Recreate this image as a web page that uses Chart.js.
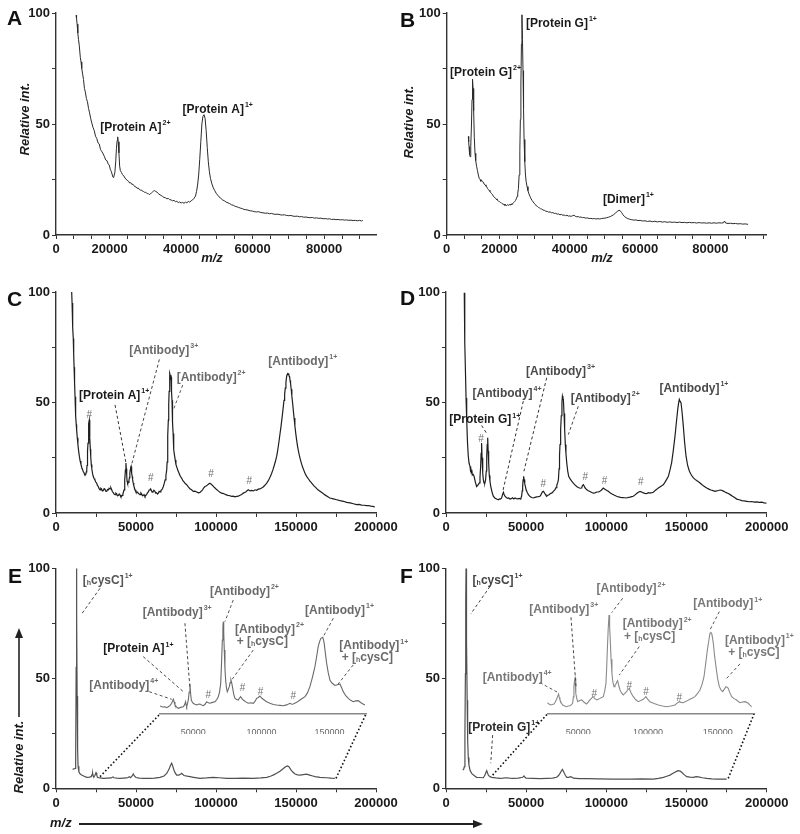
<!DOCTYPE html>
<html><head><meta charset="utf-8">
<script src="https://cdn.jsdelivr.net/npm/chart.js@4.4.1/dist/chart.umd.min.js"></script>
<style>
html,body{margin:0;padding:0;background:#fff;}
#fig{position:relative;width:800px;height:834px;overflow:hidden;background:#fff;font-family:"Liberation Sans",Arial,Helvetica,sans-serif;}
#fig canvas{position:absolute;}
.mz{position:absolute;left:50px;top:815px;font:italic bold 13px "Liberation Sans",Arial,sans-serif;color:#1a1a1a;}
.arr{position:absolute;left:79px;top:823px;width:396px;height:1.6px;background:#222;}
.arrh{position:absolute;left:473px;top:820px;width:0;height:0;border-top:4px solid transparent;border-bottom:4px solid transparent;border-left:10px solid #222;}
</style></head><body>
<div id="fig">
<canvas id="cA" width="400" height="270" style="left:0;top:0"></canvas>
<canvas id="cB" width="400" height="270" style="left:400px;top:0"></canvas>
<canvas id="cC" width="400" height="270" style="left:0;top:270px"></canvas>
<canvas id="cD" width="400" height="270" style="left:400px;top:270px"></canvas>
<canvas id="cE" width="420" height="294" style="left:0;top:540px"></canvas>
<canvas id="cEi" width="420" height="294" style="left:0;top:540px"></canvas>
<canvas id="cF" width="400" height="294" style="left:400px;top:540px"></canvas>
<canvas id="cFi" width="400" height="294" style="left:400px;top:540px"></canvas>
<div class="mz">m/z</div><div class="arr"></div><div class="arrh"></div>
</div>
<script>
// ---------------- DATA ----------------
const abTickLabels = [[5000,'0'],[20000,'20000'],[40000,'40000'],[60000,'60000'],[80000,'80000']];
const wideTickLabels = [[0,'0'],[50000,'50000'],[100000,'100000'],[150000,'150000'],[200000,'200000']];
const insetTickLabels = [[50000,'50000'],[100000,'100000'],[150000,'150000']];
const yTickLabels = [[0,'0'],[50,'50'],[100,'100']];

const spectrumA = [[10600,99],[10750,97.5],[10900,95],[11100,91],[11300,88],[11500,85.5],[11800,80],[12000,78],[12200,75],[12450,72.5],[12700,70],[12950,66],[13200,64.5],[13500,61.5],[13800,60],[14100,57],[14400,55],[14700,52.5],[15000,50.5],[15350,48.5],[15700,47],[16050,44.5],[16400,43.5],[16750,41.5],[17100,41],[17450,38.5],[17850,37.5],[18200,36.5],[18500,35.5],[18900,33.8],[19250,33.5],[19600,32],[19900,31.5],[20200,29.5],[20500,28.5],[20750,27],[20950,26],[21200,26.5],[21450,28],[21700,33],[21900,39],[22100,42.5],[22250,44.2],[22400,42],[22600,37],[22800,31],[23000,29],[23300,28.2],[23600,27.2],[24000,26.5],[24300,25.6],[24600,25.2],[24900,24.6],[25300,24.2],[25600,23.4],[25900,23.6],[26200,22.8],[26500,22.9],[26800,22.2],[27100,21.8],[27400,21.6],[27700,21],[28000,21.2],[28300,20.5],[28600,20.2],[28900,20.3],[29200,19.7],[29500,19.6],[29800,19.2],[30100,19.3],[30500,18.6],[30800,18.7],[31100,18.2],[31400,18.5],[31700,19],[32000,19.4],[32300,19.8],[32600,20],[32900,19.6],[33200,19.4],[33500,18.8],[33800,18.4],[34100,18.1],[34400,17.8],[34800,17.4],[35200,16.9],[35600,16.8],[36000,16.3],[36400,16.5],[36800,15.9],[37200,15.8],[37600,15.4],[38000,15.6],[38400,15.0],[38800,15.2],[39200,14.6],[39600,14.9],[40000,14.4],[40400,14.7],[40800,14.3],[41200,14.8],[41600,14.5],[42000,15.1],[42400,14.8],[42800,15.4],[43200,15.8],[43600,16.5],[44000,17.5],[44300,19.5],[44600,22.5],[44900,27],[45200,34],[45500,42],[45800,50],[46100,53.5],[46400,54.2],[46700,52.5],[47000,47],[47300,39.5],[47600,33],[47900,28.5],[48200,25.5],[48600,23],[49000,21.2],[49400,20],[49800,18.8],[50200,18],[50600,17.2],[51100,16.5],[51600,15.8],[52100,15.4],[52600,14.8],[53100,14.5],[53600,14.1],[54100,13.6],[54600,13.4],[55100,12.9],[55600,12.7],[56100,12.4],[56600,12.1],[57100,11.9],[57600,11.5],[58100,11.4],[58700,11.2],[59300,10.9],[59900,10.8],[60500,10.5],[61100,10.4],[61700,10.5],[62300,10.1],[62900,10.0],[63500,9.8],[64100,9.9],[64700,9.6],[65300,9.7],[65900,9.4],[66500,9.3],[67100,9.4],[67700,9.1],[68300,9.0],[68900,9.1],[69500,8.8],[70100,8.7],[70700,8.8],[71300,8.5],[71900,8.4],[72500,8.5],[73100,8.2],[73700,8.3],[74300,8.0],[74900,8.1],[75500,7.9],[76100,7.8],[76700,7.9],[77300,7.6],[77900,7.7],[78500,7.5],[79100,7.6],[79700,7.3],[80300,7.4],[80900,7.2],[81500,7.3],[82100,7.0],[82700,7.1],[83300,6.9],[83900,7.0],[84500,6.8],[85100,6.9],[85700,6.7],[86300,6.8],[86900,6.6],[87500,6.7],[88100,6.5],[88700,6.6],[89300,6.4],[89900,6.6],[90500,6.3],[90800,6.6]];

const spectrumB = [[11150,44.4],[11250,42],[11350,39.8],[11500,36.5],[11630,35.3],[11780,36],[11900,40],[12050,50],[12200,61],[12300,67],[12390,70.2],[12500,66],[12670,56],[12850,44],[13050,36.8],[13250,33.5],[13520,30.8],[13750,29],[14000,27],[14250,25.5],[14470,25],[14700,24.2],[14900,24.7],[15150,24],[15400,23.8],[15650,22.9],[15900,22.6],[16150,22],[16360,21.8],[16600,21],[16800,20.6],[17050,20.1],[17300,19.6],[17550,19],[17800,18.6],[18050,18.1],[18260,17.5],[18500,17.1],[18800,16.6],[19050,16.3],[19300,15.8],[19550,15.6],[19800,15.1],[20050,15],[20300,14.6],[20550,14.5],[20800,14.1],[21050,13.8],[21300,13.9],[21550,13.3],[21800,13.6],[22050,13.2],[22300,13.7],[22550,13.3],[22800,13.8],[23050,13.4],[23300,14],[23550,13.7],[23800,14.3],[24050,14.6],[24300,15],[24550,15.5],[24800,16.3],[25000,17.3],[25200,18.8],[25400,21],[25600,27],[25800,38],[25950,52],[26100,68],[26250,86],[26400,99.2],[26550,88],[26700,74],[26850,57],[27000,43],[27200,33],[27400,27],[27600,24],[27850,21.8],[28100,20],[28400,18.5],[28700,17.3],[29000,16.3],[29300,15.5],[29600,14.9],[29900,14.2],[30200,13.8],[30500,13.1],[30800,12.9],[31100,12.4],[31400,12.2],[31700,11.8],[32000,11.7],[32400,11.2],[32800,11.1],[33200,10.7],[33600,10.6],[34000,10.3],[34400,10.4],[34800,10],[35200,10.1],[35600,9.7],[36000,9.8],[36400,9.4],[36800,9.5],[37200,9.1],[37600,9.3],[38000,8.9],[38400,9.0],[38800,8.7],[39200,8.9],[39600,8.5],[40000,8.6],[40400,8.4],[40800,8.7],[41200,8.9],[41600,8.4],[42000,8.2],[42400,8.3],[42800,8.0],[43200,8.1],[43600,7.8],[44000,7.9],[44500,7.6],[45000,7.7],[45500,7.4],[46000,7.5],[46500,7.3],[47000,7.4],[47500,7.2],[48000,7.4],[48500,7.2],[49000,7.4],[49500,7.5],[50000,7.6],[50500,7.8],[51000,8.0],[51500,8.3],[52000,8.7],[52500,9.2],[53000,9.9],[53500,10.6],[54000,11.1],[54300,11.0],[54700,10.2],[55100,9.2],[55500,8.4],[56000,7.8],[56500,7.4],[57000,7.1],[57600,6.9],[58200,6.7],[58800,6.8],[59400,6.5],[60000,6.6],[60700,6.3],[61400,6.4],[62100,6.1],[62800,6.3],[63500,6.0],[64200,6.2],[64900,5.9],[65600,6.1],[66300,5.8],[67000,6.0],[67700,5.7],[68400,5.9],[69100,5.7],[69800,5.8],[70500,5.6],[71200,5.8],[71900,5.6],[72600,5.7],[73300,5.5],[74000,5.7],[74700,5.5],[75400,5.6],[76100,5.4],[76800,5.6],[77500,5.4],[78200,5.5],[78900,5.3],[79600,5.5],[80300,5.3],[81000,5.5],[81700,5.3],[82400,5.5],[83100,5.4],[83700,5.5],[84000,6.3],[84300,5.4],[85000,5.2],[85700,5.3],[86400,5.1],[87100,5.2],[87800,5.0],[88500,5.1],[89200,4.9],[89900,5.0],[90700,4.8]];

const spectrumC = [[9800,100],[10050,95],[10300,89],[10550,84],[10800,79],[11050,72],[11300,66],[11600,59],[11900,52.6],[12150,48],[12400,44],[12650,40],[12900,37.6],[13300,34],[13700,31],[14150,28],[14600,25.6],[15100,23.5],[15600,22],[16150,20.5],[16700,19.5],[17050,18.6],[17400,18.5],[17750,17.6],[18100,17.3],[18400,17.6],[18700,17.8],[18950,18.6],[19200,19.5],[19400,21.5],[19600,24],[19800,28],[20000,31.6],[20200,35],[20400,38],[20600,40.5],[20800,42.1],[21000,38.5],[21200,34],[21450,29],[21700,25.6],[22050,22],[22400,20],[22850,17.8],[23300,16.5],[23800,15.6],[24300,15],[24850,14],[25400,13.5],[25900,12.5],[26400,12],[26950,11],[27500,10.5],[28000,11.2],[28500,10.9],[29000,10.0],[29600,10.2],[30100,11.0],[30600,10.8],[31100,9.9],[31700,9.8],[32200,10.6],[32700,10.4],[33200,11.2],[33800,10.9],[34300,11.4],[34800,10.5],[35300,9.6],[35800,9.2],[36300,8.6],[36900,8.3],[37400,9.0],[37900,8.7],[38400,7.8],[39000,7.9],[39500,8.6],[40000,8.2],[40500,7.4],[41000,7.5],[41400,8],[41800,8.6],[42200,9.6],[42500,10.5],[42800,12.5],[43100,15],[43400,19.5],[43700,22.6],[43950,20],[44200,17],[44400,14.5],[44600,13.5],[44950,13.4],[45300,13.8],[45600,14.8],[45900,16],[46150,18],[46400,19.5],[46650,20.5],[46900,21],[47150,19.8],[47400,18],[47650,16.5],[47900,15],[48250,13.6],[48600,12.5],[49000,11.3],[49400,10.5],[49900,9.6],[50400,9.3],[50950,9.5],[51500,8.8],[52000,8.6],[52500,8.3],[53050,9.1],[53600,8.6],[54050,7.8],[54500,7.9],[55050,8.3],[55600,7.5],[56150,8.0],[56700,8.4],[57200,9.2],[57700,9.5],[58200,10.4],[58700,10.5],[59150,10.9],[59600,10.2],[60100,9.4],[60600,9.6],[61200,10.3],[61800,9.8],[62350,9.0],[62900,9.2],[63450,8.6],[64000,9],[64500,9.8],[65000,9.6],[65550,10.2],[66100,10.5],[66600,11.1],[67100,12],[67650,13.4],[68200,15],[68700,17],[69200,19.5],[69450,23],[69700,28],[69950,35],[70200,42],[70450,49],[70700,55],[70950,60],[71200,63.2],[71400,62.3],[71600,62],[71750,61.3],[71900,61.6],[72100,58.5],[72300,55],[72500,51],[72700,46.6],[72950,41],[73200,36],[73450,31.5],[73700,28.6],[74100,26],[74500,24],[74950,22],[75400,21],[76150,19.3],[76900,18],[77700,16.6],[78500,15.8],[79300,14.6],[80100,14],[80900,13.2],[81700,12.8],[82700,11.8],[83700,11],[84750,10.5],[85800,9.8],[86850,9.9],[87900,9.5],[88950,9.1],[90000,9.3],[90800,9.9],[91600,10.5],[92350,11.4],[93100,12],[93850,12.2],[94600,12.6],[95400,13.1],[96200,13.5],[97000,13.0],[97800,12.5],[98600,11.8],[99400,11.3],[100400,10.6],[101400,10],[102450,9.4],[103500,9],[104800,8.8],[106100,8.3],[107400,8.0],[108700,7.8],[109750,7.5],[110800,7.6],[111850,7.3],[112900,7.5],[113950,7.6],[115000,8],[116050,8.4],[117100,9],[117850,9.3],[118600,9.5],[119400,10.1],[120200,10.5],[121250,10.0],[122300,10.2],[123350,10.0],[124400,10.5],[125400,10.3],[126400,10.8],[127450,10.9],[128500,11.3],[129300,11.6],[130100,12.2],[130900,12.8],[131700,13.5],[132500,14.4],[133300,15.5],[134050,16.6],[134800,18],[135600,19.6],[136400,21.5],[137150,23.4],[137900,25.6],[138600,28.5],[139300,32],[139950,35.5],[140600,39],[141100,42],[141600,45],[142050,48],[142500,51],[142900,53.8],[143300,56.5],[143700,59],[144100,61.6],[144450,62.6],[144800,63],[145100,62.8],[145400,63.2],[145700,62],[146000,61.5],[146300,60],[146600,58.6],[147000,56],[147400,53],[147850,50],[148300,46.6],[148800,43],[149300,39.5],[149850,36],[150400,33],[150900,30.5],[151400,28.5],[151950,26.5],[152500,24.8],[153250,22.8],[154000,21],[154800,19.5],[155600,18],[156650,16.6],[157700,15.5],[158750,14.4],[159800,13.5],[161100,12.4],[162400,11.5],[163700,10.5],[165000,9.8],[166550,9.0],[168100,8.2],[169650,7.5],[171200,6.8],[173300,6.4],[175400,6],[177500,5.6],[179600,5.3],[181700,4.8],[183800,4.6],[185850,4.2],[187900,3.8],[189450,3.9],[191000,3.6],[192550,3.5],[194100,3.3],[195400,3.4],[196700,3.1],[198000,3.0],[199300,2.7]];

const spectrumD = [[11400,99.7],[11600,90],[11800,77],[12100,65],[12500,52],[12900,42.3],[13400,32],[13900,25.7],[14400,22.5],[15000,21],[15300,18.5],[15500,20.6],[15800,18],[16100,19.6],[16400,17.2],[16900,17.5],[17500,16.6],[18300,14],[19100,12],[19900,12.6],[20400,13.2],[20800,13.6],[21200,16],[21600,21],[21900,27],[22200,31.7],[22500,25],[22900,18],[23300,15],[23700,13.6],[24200,13.5],[24700,15],[25100,19],[25400,25.7],[25700,31],[26000,34],[26300,28],[26600,22.7],[27000,17],[27400,14.5],[27900,12],[28700,9.5],[29500,7.6],[30300,6.9],[31100,6.5],[31900,6.2],[32600,6],[33300,6.4],[34000,6.3],[34700,6.8],[35200,8.2],[35800,9.4],[36300,8.3],[36800,7.6],[37600,7.0],[38400,6.6],[39100,6.8],[39900,6.3],[40700,6.5],[41500,6.9],[42300,6.4],[43000,6.8],[43900,6.5],[44800,6.4],[45700,6.6],[46600,6.3],[47200,7.8],[47500,10],[47800,12],[48100,15],[48400,16.6],[48700,15.2],[49100,13.3],[49500,12],[50000,10.4],[50700,9.3],[51400,8.3],[52400,7.4],[53400,7.0],[54500,6.8],[55500,7.1],[56500,7.3],[57600,7.4],[58600,7.6],[59200,8.2],[59700,9.0],[60200,9.6],[60700,9.8],[61200,9.3],[61800,8.6],[62300,8.0],[62800,7.6],[63600,8.0],[64300,8.3],[65100,8.8],[65900,9],[66500,9.4],[67000,9.8],[67500,10.2],[68000,10.6],[68600,11.5],[69100,12.5],[69600,13.6],[70100,15],[70500,20],[70800,26],[71100,31],[71500,37.8],[71900,44],[72300,50],[72600,52.9],[72900,52],[73200,51.4],[73600,45],[74000,37.8],[74400,31],[74800,27],[75300,22.7],[75900,19],[76500,16.6],[77400,15.4],[78400,14.4],[79400,13.5],[80400,12.7],[81500,12],[82500,11.5],[83600,11.2],[84600,11.3],[85100,12.4],[85700,12.8],[86300,12],[86800,11.3],[87700,10.6],[88700,10.1],[89800,9.7],[90900,9.3],[91900,9],[92900,9.1],[94000,9.5],[95000,9.5],[96000,9.8],[97000,10.4],[98100,11.3],[99100,10.8],[100100,10.3],[101200,9.8],[102500,9.1],[103800,8.5],[105100,8.0],[106400,7.6],[107600,7.3],[108900,7.1],[110200,7.0],[111500,6.9],[112700,6.8],[113800,7.1],[114800,7.2],[115800,7.4],[116800,7.6],[117900,8.2],[118900,8.8],[120000,9.4],[121000,9.8],[122000,9.5],[123100,9.1],[124100,8.9],[125200,8.8],[126200,9.2],[127200,9.0],[128300,9.2],[129300,9.4],[130300,10.1],[131400,10.7],[132400,11.3],[133400,11.8],[134500,12.3],[135500,12.8],[136600,14],[137600,15.2],[138700,16.6],[139700,19.5],[140700,22.7],[141700,28],[142800,34.7],[143600,40.5],[144500,46.8],[145000,49.5],[145500,51.4],[146000,50.5],[146600,49.8],[147300,45],[148000,39.3],[148800,32],[149700,25.7],[150700,21.5],[151800,18.9],[153000,17.2],[154300,15.9],[155300,15.2],[156300,14.7],[157400,14.2],[158400,13.6],[159500,12.9],[160500,12.3],[161600,11.8],[162600,11.3],[163900,10.8],[165200,10.4],[166500,10.1],[167800,9.8],[168800,10.0],[169900,10.2],[170900,10.4],[171900,10.3],[173000,9.9],[174000,9.5],[175100,9.1],[176100,8.8],[177400,8.2],[178700,7.6],[180000,7.0],[181300,6.3],[182900,6.0],[184400,5.6],[186000,5.5],[187500,5.3],[189100,5.1],[190600,5.2],[192200,4.9],[193800,5.0],[195300,4.8],[196900,4.9],[198400,4.6],[200000,4.5]];

const spectrumE = [[10400,8.6],[11200,8.8],[11900,9],[12300,14],[12600,55],[12800,95],[12900,100],[13000,80],[13200,42],[13500,18],[13800,10],[14300,7.5],[15000,6.6],[16000,6],[17600,5.5],[19200,5],[20800,5.1],[22000,5.3],[22500,6.2],[22900,6.8],[23300,5.4],[23700,5.2],[24300,5.8],[25000,7.1],[25500,6.0],[25900,5],[27500,4.7],[29600,4.5],[32000,4.6],[34500,4.7],[35600,5.2],[36300,4.8],[38000,4.6],[40000,4.5],[42000,4.6],[44200,4.7],[45000,4.9],[45800,5.3],[46600,4.8],[47600,5.6],[48300,6.5],[49000,5.6],[50000,4.9],[52000,4.6],[55000,4.5],[58700,4.5],[61500,4.6],[65000,5],[67500,5.6],[69200,6.8],[70100,8],[70800,9],[71600,10.5],[72300,11.4],[73000,10],[73700,8.3],[74500,7],[75400,6],[76800,6],[78000,6.5],[78500,6.8],[79300,6.3],[80000,5.8],[82000,5.5],[83700,5.3],[86000,5],[90000,4.5],[94000,4.7],[98300,5],[102000,4.8],[106700,4.5],[112000,4.5],[117000,4.6],[123300,4.5],[128000,4.7],[131700,5],[134000,5.5],[136000,6.1],[137900,6.8],[140000,7.8],[142100,9],[143500,9.8],[144600,10.2],[145600,9.8],[146600,8.6],[148000,7.4],[149400,6.5],[151000,6.1],[152500,6],[154500,6.2],[156600,6.4],[158500,6],[160500,5.6],[161900,5.3],[165000,5.0],[169100,4.8],[172000,4.6],[174300,4.5]];

const insetE = [[25500,7],[27300,6.2],[29200,6.4],[30400,5.6],[31600,6.4],[32900,7.5],[34100,9.4],[34700,11.5],[35300,12.9],[35900,10.5],[36500,7.9],[37700,6],[38900,5],[40700,5.8],[42600,6.4],[43500,8],[44300,10.8],[44700,8],[45100,6.4],[45700,9],[46300,12.3],[46900,19],[47500,26.3],[48000,18],[48500,12.3],[49200,10.5],[49900,9.4],[51100,8.5],[52400,7.9],[53600,8.6],[54900,8.8],[56100,7.8],[57300,7.3],[58600,8.5],[59800,10.8],[61000,9.8],[62200,9.4],[64000,10.2],[65900,10.8],[67100,12.5],[68300,15.2],[69200,19],[70100,26.9],[70700,45],[71300,64.9],[71700,76],[72000,81],[72300,72],[72700,56.1],[73200,40],[73700,29.8],[74300,23],[74900,19.6],[75600,21.5],[76400,24],[77000,27.5],[77600,29.8],[78200,27],[78900,22.5],[79700,17],[80600,13.7],[81800,12.8],[83000,12.3],[83800,13.8],[84700,15.2],[85700,13.5],[86700,12.3],[88500,10.6],[90300,9.4],[92200,9.8],[94000,9.4],[95200,11],[96500,13.7],[97700,14.5],[98900,15.8],[100100,14],[101300,12.9],[103800,10.8],[106300,9.4],[108700,8.4],[111200,7.9],[113600,7.6],[116000,7.3],[118500,8],[121000,9.4],[122200,8.6],[123400,8.8],[125900,10.2],[128300,12.3],[130200,13.8],[132000,15.2],[133800,18.5],[135600,24],[137400,32],[139300,41.5],[140500,50],[141700,59.1],[142700,63.5],[143700,66.4],[144400,67],[145000,67.3],[145600,65],[146100,62],[147000,53],[147900,44.4],[149100,36],[150300,29.8],[151500,27.5],[152700,26.3],[153900,25],[155200,25.4],[156400,25.8],[157700,26.3],[158900,23],[160100,19.6],[161900,16],[163800,13.7],[165600,12],[167400,10.8],[169200,11.5],[171100,11.7],[172400,10.5],[173600,9.4],[176000,7.9]];

const spectrumF = [[10400,8.3],[11000,8.6],[11400,9.8],[11800,25],[12100,52],[12300,85],[12500,100],[12700,82],[12900,67],[13200,40],[13500,22],[13900,14],[14300,10.6],[15000,8.2],[16000,6.8],[17500,5.8],[19100,5],[21000,4.9],[23300,4.8],[24300,6],[24900,7.2],[25400,8],[25900,7],[26400,6],[27400,5.3],[28500,5],[31000,4.7],[33700,4.5],[35500,4.6],[37400,4.8],[39500,4.6],[42000,4.5],[45000,4.6],[47800,5],[48600,5.6],[49300,5.0],[49900,4.6],[54000,4.5],[58600,4.4],[63000,4.5],[66500,4.6],[69000,5],[70200,5.8],[71100,6.8],[72000,8],[72600,8.6],[73200,7.8],[73800,6.8],[74500,5.8],[75300,5],[76500,5],[77800,5.3],[78600,5],[79400,4.6],[83000,4.4],[87700,4.4],[95000,4.3],[104400,4.2],[115000,4.2],[122000,4.3],[129300,4.2],[132500,4.5],[135600,5],[137700,5.5],[139700,6],[141300,6.7],[142800,7.3],[144000,7.8],[144900,8],[146000,7.8],[147000,7.3],[148500,6.2],[150100,5.3],[152200,5.1],[154300,5],[155900,5.3],[157400,5.2],[159800,4.8],[162600,4.5],[165700,4.3],[168800,4.2],[172000,4.2],[175000,4.2]];

const insetF = [[27700,9.9],[28900,8.8],[30100,7.9],[31300,8.4],[32500,8.8],[33400,10.5],[34400,12.9],[35100,15.5],[35800,17.5],[36300,14.5],[36800,12.3],[37700,9.8],[38700,7.9],[40200,7],[41600,6.4],[42800,7],[44000,7.3],[45000,8.2],[45900,9.4],[46400,15],[46800,24],[47200,29],[47600,31.3],[48000,24],[48300,18.1],[48900,13.5],[49500,10.8],[50900,11.8],[52400,12.3],[54100,10.3],[55900,8.8],[57100,10.5],[58300,12.3],[59500,14],[60700,15.2],[61900,13.5],[63100,12.3],[64300,13],[65500,13.7],[66700,14.5],[67900,15.2],[68900,20],[69800,26.9],[70300,40],[70800,56.1],[71400,74],[72000,86.8],[72450,77],[72900,64.9],[73500,48],[74100,35.7],[74800,28],[75600,24],[76300,25.2],[77000,26.3],[77600,28],[78200,29.2],[79000,25],[79900,21.1],[81000,18.5],[82200,16.7],[83400,18],[84600,19.6],[85600,21.5],[86500,22.5],[87900,18.5],[89400,15.2],[91200,12.5],[93000,10.8],[94800,11.8],[96600,12.9],[97500,14],[98500,15.2],[100000,12.5],[101400,10.8],[104400,9.2],[107400,7.9],[110400,7],[113400,6.4],[116400,7],[119400,7.9],[120900,9.5],[122400,10.8],[123800,10.2],[125300,9.9],[127700,11.3],[130100,12.9],[131900,14],[133700,15.2],[135500,17.8],[137300,21.1],[138800,26],[140200,32.7],[141400,44],[142600,56.1],[143600,64],[144500,70.8],[145100,71.5],[145700,70.8],[146300,67],[146900,62],[147800,51],[148800,41.5],[150000,31],[151200,24],[152400,21.2],[153600,19.6],[154800,21.8],[156000,24],[156800,23.5],[157600,22.5],[158800,18.5],[160100,15.2],[161800,13.5],[163600,12.3],[164800,11],[166000,9.9],[167800,10.5],[169600,10.8],[170800,10.2],[172000,9.4],[173200,7.8],[174400,6.4]];

// ---------------- RENDERING ----------------
const FAM = '"Liberation Sans", Arial, Helvetica, sans-serif';
Chart.defaults.font.family = FAM;
const DARK = '#1a1a1a', GRAY = '#6a6a6a';
const charts = {};
const decorCfg = {};

function drawRich(ctx, x, y, text, color, size, align) {
  const parts = [];
  const re = /\^\{([^}]*)\}|_\{([^}]*)\}|([^\^_]+)/g;
  let m;
  while ((m = re.exec(text))) {
    if (m[1] !== undefined) parts.push({t: m[1], k: 'sup'});
    else if (m[2] !== undefined) parts.push({t: m[2], k: 'sub'});
    else parts.push({t: m[3], k: 'n'});
  }
  const small = Math.round(size * 0.6);
  const fontFor = k => k === 'n' ? `bold ${size}px ${FAM}` : `bold ${small}px ${FAM}`;
  ctx.save();
  ctx.fillStyle = color; ctx.textBaseline = 'alphabetic'; ctx.textAlign = 'left';
  let w = 0;
  parts.forEach(p => { ctx.font = fontFor(p.k); p.w = ctx.measureText(p.t).width + (p.k === 'sup' ? 1 : 0); w += p.w; });
  let cx = align === 'center' ? x - w / 2 : x;
  parts.forEach(p => {
    ctx.font = fontFor(p.k);
    const dy = p.k === 'sup' ? -size * 0.48 : (p.k === 'sub' ? size * 0.12 : 0);
    ctx.fillText(p.t, cx + (p.k === 'sup' ? 1 : 0), y + dy);
    cx += p.w;
  });
  ctx.restore();
}

const decor = {
  id: 'decor',
  afterDraw(chart) {
    const d = decorCfg[chart.canvas.id];
    if (!d) return;
    const ctx = chart.ctx, xs = chart.scales.x, ys = chart.scales.y;
    const X = v => xs.getPixelForValue(v), Y = v => ys.getPixelForValue(v);
    ctx.save();
    if (d.zoom) {
      const mc = charts[d.zoom.main];
      const mx = mc.scales.x, my = mc.scales.y, a = chart.chartArea;
      ctx.strokeStyle = '#111'; ctx.lineWidth = 1.6; ctx.setLineDash([1.6, 2.2]);
      ctx.beginPath();
      ctx.moveTo(mx.getPixelForValue(d.zoom.left[0]), my.getPixelForValue(d.zoom.left[1]));
      ctx.lineTo(a.left, a.bottom);
      ctx.moveTo(mx.getPixelForValue(d.zoom.right[0]), my.getPixelForValue(d.zoom.right[1]));
      ctx.lineTo(a.right, a.bottom);
      ctx.stroke();
      ctx.setLineDash([]);
    }
    (d.leaders || []).forEach(l => {
      ctx.strokeStyle = l[2] || '#444'; ctx.lineWidth = 1; ctx.setLineDash([3, 2.5]);
      ctx.beginPath();
      ctx.moveTo(X(l[0][0]), Y(l[0][1])); ctx.lineTo(X(l[1][0]), Y(l[1][1]));
      ctx.stroke();
    });
    ctx.setLineDash([]);
    (d.labels || []).forEach(l => drawRich(ctx, X(l[1]), Y(l[2]), l[0], l[3] || DARK, 12, 'left'));
    (d.marks || []).forEach(mk => {
      ctx.font = `10px ${FAM}`; ctx.fillStyle = '#707070';
      ctx.textAlign = 'center'; ctx.textBaseline = 'middle';
      ctx.fillText('#', X(mk[0]), Y(mk[1]));
    });
    if (d.letter) {
      ctx.font = `bold 21px ${FAM}`; ctx.fillStyle = '#111';
      ctx.textAlign = 'left'; ctx.textBaseline = 'alphabetic';
      ctx.fillText(d.letter[0], d.letter[1], d.letter[2]);
    }
    if (d.yTitle) {
      ctx.save();
      ctx.translate(d.yTitle[1], d.yTitle[2]); ctx.rotate(-Math.PI / 2);
      ctx.font = `italic bold 13px ${FAM}`; ctx.fillStyle = DARK;
      ctx.textAlign = 'center'; ctx.textBaseline = 'middle';
      ctx.fillText(d.yTitle[0], 0, 0);
      ctx.restore();
    }
    if (d.xTitle) {
      ctx.font = `italic bold 13px ${FAM}`; ctx.fillStyle = DARK;
      ctx.textAlign = 'center'; ctx.textBaseline = 'middle';
      ctx.fillText(d.xTitle[0], d.xTitle[1], d.xTitle[2]);
    }
    if (d.yArrow) {
      const [ax, y1, y2] = d.yArrow;
      ctx.strokeStyle = '#222'; ctx.lineWidth = 1.6;
      ctx.beginPath(); ctx.moveTo(ax, y1); ctx.lineTo(ax, y2 + 8); ctx.stroke();
      ctx.fillStyle = '#222';
      ctx.beginPath(); ctx.moveTo(ax, y2); ctx.lineTo(ax - 4, y2 + 10); ctx.lineTo(ax + 4, y2 + 10); ctx.closePath(); ctx.fill();
    }
    ctx.restore();
  }
};

function lookup(list) { const m = new Map(list); return v => (m.has(v) ? m.get(v) : ''); }
function tickBuilder(start, step) {
  return s => { const t = []; for (let v = start; v <= s.max + 1e-6; v += step) t.push({value: v}); s.ticks = t; };
}

function mainChart(key, spec, cfg) {
  const canvas = document.getElementById('c' + key);
  const W = canvas.width, H = canvas.height, a = cfg.area;
  charts[key] = new Chart(canvas, {
    type: 'line',
    data: { datasets: [{ data: spec.map(p => ({x: p[0], y: p[1]})), borderColor: cfg.color, borderWidth: cfg.lw, pointRadius: 0, tension: 0, fill: false }] },
    options: {
      animation: false, responsive: false, events: [],
      layout: { padding: { left: 0, right: W - a[1], top: a[2], bottom: H - a[3] - 25 } },
      scales: {
        x: {
          type: 'linear', min: cfg.xMin, max: cfg.xMax,
          afterBuildTicks: tickBuilder(cfg.xMin, cfg.xStep),
          ticks: { autoSkip: false, maxRotation: 0, minRotation: 0, padding: 3, color: DARK, font: { size: 13, weight: 'bold' }, callback: lookup(cfg.xLabels) },
          grid: { display: true, drawOnChartArea: false, drawTicks: true, tickLength: 4, color: '#333', lineWidth: 1 },
          border: { display: true, color: '#333', width: 1.4 },
          afterFit(s) { s.height = 25; s.paddingLeft = 0; s.paddingRight = 0; }
        },
        y: {
          min: 0, max: 100,
          afterBuildTicks: tickBuilder(0, 25),
          ticks: { autoSkip: false, padding: 2, color: DARK, font: { size: 13, weight: 'bold' }, callback: lookup(yTickLabels) },
          grid: { display: true, drawOnChartArea: false, drawTicks: true, tickLength: 4, color: '#333', lineWidth: 1 },
          border: { display: true, color: '#333', width: 1.4 },
          afterFit(s) { s.width = a[0]; s.paddingTop = 0; s.paddingBottom = 0; }
        }
      },
      plugins: { legend: { display: false }, tooltip: { enabled: false } }
    },
    plugins: [decor]
  });
}

function insetChart(key, spec, cfg) {
  const canvas = document.getElementById('c' + key);
  const W = canvas.width, H = canvas.height, a = cfg.area;
  charts[key] = new Chart(canvas, {
    type: 'line',
    data: { datasets: [{ data: spec.map(p => ({x: p[0], y: p[1]})), borderColor: cfg.color, borderWidth: 1.1, pointRadius: 0, tension: 0, fill: false }] },
    options: {
      animation: false, responsive: false, events: [],
      layout: { padding: { left: a[0], right: W - a[1], top: a[2], bottom: H - a[3] - 20 } },
      scales: {
        x: {
          type: 'linear', min: cfg.xMin, max: cfg.xMax,
          afterBuildTicks: tickBuilder(50000, 50000),
          ticks: { autoSkip: false, maxRotation: 0, minRotation: 0, padding: 5, color: '#666', font: { size: 9 }, callback: lookup(insetTickLabels) },
          grid: { display: false },
          border: { display: true, color: '#888', width: 1.4 },
          afterFit(s) { s.height = 20; s.paddingLeft = 0; s.paddingRight = 0; }
        },
        y: { display: false, min: 0, max: 100 }
      },
      plugins: { legend: { display: false }, tooltip: { enabled: false } }
    },
    plugins: [decor]
  });
}

// ---- annotation layout (data coordinates of each panel) ----
decorCfg.cA = {
  letter: ['A', 7, 25], yTitle: ['Relative int.', 25, 119], xTitle: ['m/z', 212, 258],
  labels: [['[Protein A]^{2+}', 17360, 46.8], ['[Protein A]^{1+}', 40400, 55]]
};
decorCfg.cB = {
  letter: ['B', 0, 27], yTitle: ['Relative int.', 9, 122], xTitle: ['m/z', 202, 258],
  labels: [['[Protein G]^{2+}', 5940, 71.6], ['[Protein G]^{1+}', 27530, 93.7], ['[Dimer]^{1+}', 49430, 14.4]]
};
decorCfg.cC = {
  letter: ['C', 7, 36],
  labels: [['[Protein A]^{1+}', 14400, 51.6, DARK], ['[Antibody]^{3+}', 45800, 72.1, GRAY], ['[Antibody]^{2+}', 75400, 59.7, GRAY], ['[Antibody]^{1+}', 132700, 66.9, GRAY]],
  leaders: [[[36900, 48.9], [43750, 22.6], '#333'], [[64600, 69.5], [46900, 21], '#444'], [[79200, 57.9], [73300, 46.6], '#555']],
  marks: [[20800, 44.3], [59200, 15.8], [96900, 17.7], [120800, 14.3]]
};
decorCfg.cD = {
  letter: ['D', 0, 35],
  labels: [['[Protein G]^{1+}', 2100, 40.5, DARK], ['[Antibody]^{4+}', 16600, 52.6, '#4a4a4a'], ['[Antibody]^{3+}', 49900, 62.4, '#4a4a4a'], ['[Antibody]^{2+}', 77800, 50.3, '#4a4a4a'], ['[Antibody]^{1+}', 133100, 54.8, '#4a4a4a']],
  leaders: [[[22200, 39.6], [25800, 35.5], '#333'], [[48200, 50.6], [35300, 9.4], '#333'], [[62800, 61.2], [48600, 18.9], '#333'], [[82500, 48.3], [76300, 35.5], '#444']],
  marks: [[21800, 33.5], [60700, 12.8], [86900, 16.3], [98800, 14.4], [121400, 13.9]]
};
decorCfg.cE = {
  letter: ['E', 8, 43], yTitle: ['Relative int.', 19, 217], yArrow: [19, 177, 88],
  labels: [['[_{h}cysC]^{1+}', 16700, 92.9, '#555']],
  leaders: [[[27500, 90.9], [15600, 78.8], '#444']]
};
decorCfg.cEi = {
  zoom: { main: 'E', left: [27500, 5.3], right: [175000, 4.5] },
  labels: [['[Antibody]^{4+}', -26400, 21.9, GRAY], ['[Protein A]^{1+}', -16200, 54.1, DARK], ['[Antibody]^{3+}', 12800, 86, GRAY], ['[Antibody]^{2+}', 62200, 104.4, GRAY], ['[Antibody]^{2+}', 80600, 71.3, GRAY], ['+ [_{h}cysC]', 81800, 60.5, GRAY], ['[Antibody]^{1+}', 132000, 87.7, GRAY], ['[Antibody]^{1+}', 157200, 56.7, GRAY], ['+ [_{h}cysC]', 158900, 46.5, GRAY]],
  leaders: [[[17600, 19.6], [34100, 12.9], '#555'], [[13200, 50.3], [42600, 19.6], '#444'], [[43800, 79.6], [47500, 22.5], '#444'], [[79300, 100], [73200, 81], '#555'], [[94000, 56.1], [78100, 29.8], '#555'], [[152800, 84], [145400, 67.8], '#555'], [[167400, 43], [155700, 25.4], '#555']],
  marks: [[61000, 16.7], [86200, 22.5], [99400, 18.7], [123400, 15.2]]
};
decorCfg.cF = {
  letter: ['F', 0, 43],
  labels: [['[_{h}cysC]^{1+}', 16600, 92.9, '#444'], ['[Protein G]^{1+}', 13900, 26.2, '#2a2a2a']],
  leaders: [[[27400, 91.7], [15400, 79.2], '#444'], [[29100, 24.2], [27900, 11.4], '#444']]
};
decorCfg.cFi = {
  zoom: { main: 'F', left: [29100, 6], right: [176000, 4.5] },
  labels: [['[Antibody]^{4+}', -18700, 29.2, '#777'], ['[Antibody]^{3+}', 14800, 88.9, '#777'], ['[Antibody]^{2+}', 63100, 106.7, '#777'], ['[Antibody]^{2+}', 81800, 76, '#777'], ['+ [_{h}cysC]', 82700, 64.9, '#777'], ['[Antibody]^{1+}', 132500, 93.6, '#777'], ['[Antibody]^{1+}', 155200, 61.4, '#777'], ['+ [_{h}cysC]', 157600, 50.9, '#777']],
  leaders: [[[22400, 27.5], [35600, 18.7], '#555'], [[44700, 84.8], [48300, 24], '#444'], [[81800, 101.5], [73900, 88.9], '#555'], [[93700, 59.1], [79400, 34.2], '#555'], [[151200, 89.8], [144500, 73.7], '#555'], [[166000, 43.9], [156500, 31.3], '#555']],
  marks: [[61400, 17.3], [86600, 24], [98500, 18.7], [122400, 13.7]]
};

mainChart('A', spectrumA, { area: [56, 376, 13, 235], xMin: 5000, xMax: 94500, xStep: 5000, xLabels: abTickLabels, color: '#2a2a2a', lw: 1 });
mainChart('B', spectrumB, { area: [46.7, 366.7, 13, 235], xMin: 5000, xMax: 96000, xStep: 5000, xLabels: abTickLabels, color: '#2a2a2a', lw: 1 });
mainChart('C', spectrumC, { area: [56, 376, 22, 243], xMin: 0, xMax: 200000, xStep: 25000, xLabels: wideTickLabels, color: '#1e1e1e', lw: 1.2 });
mainChart('D', spectrumD, { area: [46, 366.7, 22, 243], xMin: 0, xMax: 200000, xStep: 25000, xLabels: wideTickLabels, color: '#1e1e1e', lw: 1.2 });
mainChart('E', spectrumE, { area: [56, 376, 28.3, 248.3], xMin: 0, xMax: 200000, xStep: 25000, xLabels: wideTickLabels, color: '#505050', lw: 1.2 });
insetChart('Ei', insetE, { area: [160, 366, 60, 174], xMin: 25500, xMax: 176800, color: '#6a6a6a' });
mainChart('F', spectrumF, { area: [46, 366.7, 28.3, 248.3], xMin: 0, xMax: 200000, xStep: 25000, xLabels: wideTickLabels, color: '#505050', lw: 1.2 });
insetChart('Fi', insetF, { area: [147.3, 354, 60, 174], xMin: 27700, xMax: 176100, color: '#8a8a8a' });
</script>
</body></html>
